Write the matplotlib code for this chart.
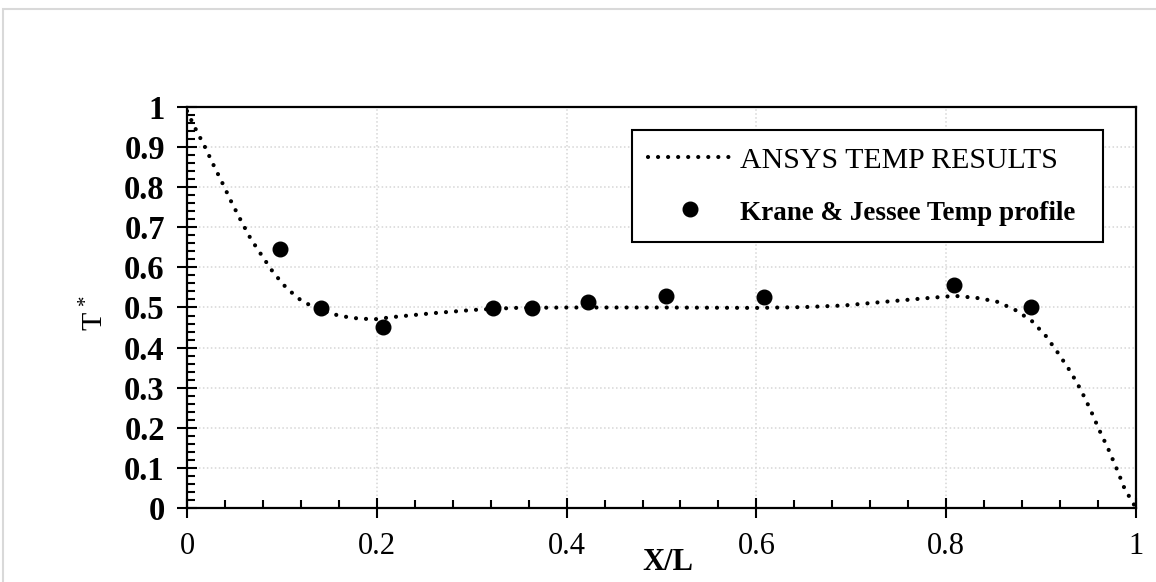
import matplotlib
matplotlib.use("Agg")
import matplotlib.pyplot as plt
from matplotlib.patches import Rectangle
from matplotlib.ticker import MultipleLocator, FormatStrFormatter

plt.rcParams["font.family"] = ["Liberation Serif", "DejaVu Serif"]
plt.rcParams["mathtext.fontset"] = "custom"
plt.rcParams["mathtext.rm"] = "Liberation Serif"
plt.rcParams["mathtext.it"] = "Liberation Serif:italic"

# ANSYS curve
ansys_x = [0.0, 0.008, 0.019, 0.028, 0.038, 0.047, 0.057, 0.067, 0.079, 0.091,
           0.105, 0.121, 0.140, 0.161, 0.182, 0.200, 0.216, 0.26, 0.302, 0.344,
           0.40, 0.50, 0.60, 0.65, 0.692, 0.734, 0.778, 0.809, 0.832, 0.853,
           0.872, 0.890, 0.905, 0.918, 0.931, 0.942, 0.952, 0.961, 0.971, 0.980,
           0.988, 1.0]
ansys_t = [0.99, 0.95, 0.90, 0.855, 0.807, 0.762, 0.716, 0.672, 0.629, 0.587,
           0.548, 0.516, 0.494, 0.479, 0.472, 0.471, 0.476, 0.486, 0.494, 0.499,
           0.500, 0.500, 0.499, 0.501, 0.505, 0.514, 0.523, 0.529, 0.524, 0.515,
           0.495, 0.467, 0.429, 0.386, 0.340, 0.294, 0.245, 0.196, 0.146, 0.096,
           0.048, 0.0]

# Krane & Jessee points
kj_x = [0.098, 0.141, 0.207, 0.322, 0.364, 0.423, 0.505, 0.608, 0.808, 0.889]
kj_t = [0.645, 0.498, 0.452, 0.498, 0.498, 0.514, 0.529, 0.527, 0.556, 0.502]

fs = 21.5
W, H = 1156, 582
fig = plt.figure(figsize=(W / 100, H / 100), dpi=100)
ax = fig.add_axes((187 / W, 1 - 508 / H, 949 / W, 401 / H))

# light grey frame around the chart area
fig.patches.append(Rectangle((3 / W, -0.1), 1.1, 1 - 9 / H + 0.1,
                             transform=fig.transFigure, fill=False,
                             edgecolor="#d9d9d9", linewidth=1.5))

ax.set_xlim(0, 1)
ax.set_ylim(0, 1)
ax.grid(True, which="major", color="#d6d6d6", linestyle=(0, (1, 1.6)), linewidth=1.1)
ax.set_axisbelow(True)

ax.plot(ansys_x, ansys_t, color="black", linewidth=3,
        linestyle=(0, (0.01, 2.4)), dash_capstyle="round",
        label="ANSYS TEMP RESULTS")
ax.plot(kj_x, kj_t, "o", color="black", markersize=10.5,
        label="Krane & Jessee Temp profile")

ax.xaxis.set_major_locator(MultipleLocator(0.2))
ax.xaxis.set_minor_locator(MultipleLocator(0.04))
ax.yaxis.set_major_locator(MultipleLocator(0.1))
ax.yaxis.set_minor_locator(MultipleLocator(0.02))
ax.xaxis.set_major_formatter(FormatStrFormatter("%g"))
ax.yaxis.set_major_formatter(FormatStrFormatter("%g"))

ax.tick_params(which="major", direction="inout", length=14, width=1.5,
               labelsize=22, pad=10)
ax.tick_params(axis="y", which="major", labelsize=23.5, pad=9)
ax.tick_params(which="minor", direction="in", length=5.5, width=1.5)
for lab in ax.get_yticklabels():
    lab.set_fontweight("bold")

for s in ax.spines.values():
    s.set_linewidth(1.6)
    s.set_color("black")

ax.set_xlabel("X/L", fontsize=22, fontweight="bold")
ax.xaxis.set_label_coords(0.507, -0.135)
ax.xaxis.label.set_va("center")
ax.set_ylabel(r"T$^{\,*}$", fontsize=fs)
ax.yaxis.set_label_coords(-0.097, 0.486)
ax.yaxis.label.set_va("center")

leg = ax.legend(loc="upper left",
                bbox_to_anchor=(632 / W, 1 - 136 / H, (1103 - 632) / W, 0.01),
                bbox_transform=fig.transFigure, mode="expand",
                fontsize=fs, fancybox=False, framealpha=1, edgecolor="black",
                handlelength=2.8, handletextpad=0.25, labelspacing=0.85,
                borderpad=0.55, borderaxespad=0)
leg.get_frame().set_linewidth(1.5)
bold_txt = leg.get_texts()[1]
bold_txt.set_fontweight("bold")
bold_txt.set_fontsize(19.5)

fig.savefig("out.png", dpi=100)
